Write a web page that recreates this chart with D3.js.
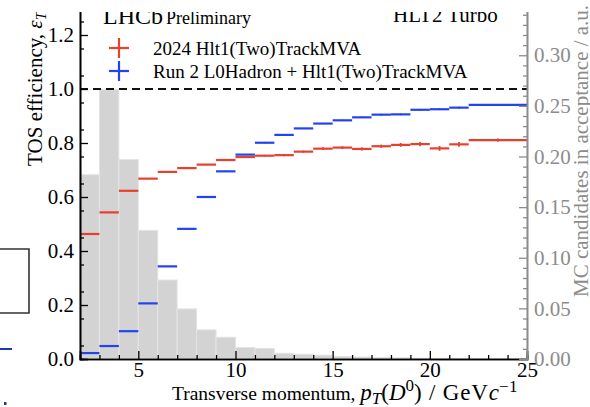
<!DOCTYPE html>
<html><head><meta charset="utf-8">
<script src="https://cdn.jsdelivr.net/npm/d3@7"></script>
<style>
html,body{margin:0;padding:0;background:#fff;}
svg{display:block;}
svg text{font-family:"Liberation Serif","Times New Roman",serif;}
</style></head>
<body><svg id="c" width="590" height="407"></svg>
<script>
// ---- data ----
const effEdges = [2,3,4,5,6,7,8,9,10,11,12,13,14,15,16,17,18,19,20,21,22,25];
const eff2024 = [0.463,0.543,0.623,0.668,0.693,0.707,0.720,0.737,0.748,0.753,0.755,0.768,0.779,0.783,0.778,0.788,0.793,0.796,0.780,0.795,0.811];
const err2024 = [0.002,0.002,0.002,0.002,0.002,0.002,0.002,0.003,0.003,0.003,0.004,0.004,0.005,0.005,0.006,0.006,0.007,0.008,0.009,0.009,0.006];
const effRun2 = [0.022,0.048,0.103,0.206,0.343,0.482,0.600,0.695,0.757,0.801,0.830,0.854,0.872,0.884,0.895,0.905,0.906,0.923,0.925,0.931,0.941];
const errRun2 = [0.001,0.001,0.001,0.001,0.002,0.002,0.002,0.002,0.002,0.002,0.002,0.002,0.002,0.002,0.002,0.003,0.003,0.003,0.003,0.003,0.003];
const histEdges = d3.range(2,26,1);
const histVals = [0.182,0.266,0.197,0.127,0.078,0.0495,0.0288,0.0215,0.0114,0.0104,0.0057,0.0047,0.0038,0.0025,0.0020,0.0015,0.0011,0.0008,0.0006,0.0005,0.0003,0.0003,0.0002];
const legendLabels = ["2024 Hlt1(Two)TrackMVA","Run 2 L0Hadron + Hlt1(Two)TrackMVA"];
const xTicks = [5,10,15,20,25];
const yLTicks = [0,0.2,0.4,0.6,0.8,1.0,1.2];
const yRTicks = [0,0.05,0.10,0.15,0.20,0.25,0.30];

const RED = "#e8402e", BLUE = "#2443f0", GREY = "#8c8c8c";
const FONT = "Liberation Serif, Times New Roman, serif";
const svg = d3.select("#c");
const L = 80, R = 527, B = 359, T = -5.5;
const x = d3.scaleLinear([2,25],[L,R]);
const yL = d3.scaleLinear([0,1.35],[B,T]);
const yR = d3.scaleLinear([0,0.36],[B,T]);

// histogram
svg.append("g").selectAll("rect").data(histVals).join("rect")
  .attr("x",(d,i)=>x(histEdges[i]))
  .attr("width",(d,i)=>x(histEdges[i+1])-x(histEdges[i]))
  .attr("y",d=>yR(d)).attr("height",d=>yR(0)-yR(d))
  .attr("fill","#d3d3d3").attr("stroke","#e4e4e4").attr("stroke-width",1);

// dashed line at 1
svg.append("line").attr("x1",L).attr("x2",R).attr("y1",yL(1)).attr("y2",yL(1))
  .attr("stroke","#111").attr("stroke-width",2).attr("stroke-dasharray","8,5");

function series(vals, errs, color){
  const g = svg.append("g").attr("stroke",color).attr("stroke-width",2.2);
  vals.forEach((v,i)=>{
    const x0 = x(effEdges[i]), x1 = x(effEdges[i+1]), xc = (x0+x1)/2;
    g.append("line").attr("x1",x0).attr("x2",x1).attr("y1",yL(v)).attr("y2",yL(v));
    g.append("line").attr("x1",xc).attr("x2",xc).attr("y1",yL(v-errs[i])).attr("y2",yL(v+errs[i])).attr("stroke-width",1.8);
  });
}
series(eff2024, err2024, RED);
series(effRun2, errRun2, BLUE);

// axes
function style(g, color){
  g.attr("font-family",FONT);
  g.selectAll("text").attr("font-size","21px").attr("fill",color).attr("font-family",FONT);
  g.selectAll("line").attr("stroke",color).attr("stroke-width",1.3);
  g.select(".domain").attr("stroke",color).attr("stroke-width",1.6);
}
const gx = svg.append("g").attr("transform",`translate(0,${B})`)
  .call(d3.axisBottom(x).tickValues(xTicks).tickSize(-8).tickPadding(3).tickFormat(d3.format("d")));
style(gx,"#000");
const gxm = svg.append("g").attr("transform",`translate(0,${B})`)
  .call(d3.axisBottom(x).tickValues(d3.range(3,25,1).filter(v=>v%5)).tickSize(-4).tickFormat(""));
style(gxm,"#000");

const gl = svg.append("g").attr("transform",`translate(${L},0)`)
  .call(d3.axisLeft(yL).tickValues(yLTicks).tickSize(-8).tickPadding(6).tickFormat(d3.format(".1f")));
style(gl,"#000");
const glm = svg.append("g").attr("transform",`translate(${L},0)`)
  .call(d3.axisLeft(yL).tickValues(d3.range(0.05,1.35,0.1)).tickSize(-4).tickFormat(""));
style(glm,"#000");

const gr = svg.append("g").attr("transform",`translate(${R},0)`)
  .call(d3.axisRight(yR).tickValues(yRTicks).tickSize(-8).tickPadding(7).tickFormat(d3.format(".2f")));
style(gr,GREY);
const grm = svg.append("g").attr("transform",`translate(${R},0)`)
  .call(d3.axisRight(yR).tickValues(d3.range(0.01,0.36,0.01).filter((v,i)=>(i+1)%5!==0)).tickSize(-4).tickFormat(""));
style(grm,GREY);

// axis titles
const xt = svg.append("text").attr("x",172).attr("y",400).attr("font-size","19.5px").attr("fill","#000").attr("font-family",FONT);
xt.append("tspan").text("Transverse momentum, ");
xt.append("tspan").attr("font-style","italic").attr("font-size","23px").text("p");
xt.append("tspan").attr("font-style","italic").attr("font-size","17px").attr("dy",4).text("T");
xt.append("tspan").attr("dy",-4).attr("font-size","23px").text("(");
xt.append("tspan").attr("font-style","italic").attr("font-size","23px").text("D");
xt.append("tspan").attr("font-size","17px").attr("dy",-9).text("0");
xt.append("tspan").attr("dy",9).attr("font-size","23px").attr("letter-spacing","0.8px").text(") / GeV");
xt.append("tspan").attr("font-style","italic").attr("font-size","23px").text("c");
xt.append("tspan").attr("font-size","17px").attr("dy",-8).attr("letter-spacing","0.5px").text("−1");

const yt = svg.append("text").attr("transform","translate(42,12) rotate(-90)").attr("text-anchor","end")
  .attr("font-size","21px").attr("fill","#000").attr("font-family",FONT);
yt.append("tspan").text("TOS efficiency, ");
yt.append("tspan").attr("font-style","italic").text("ε");
yt.append("tspan").attr("font-style","italic").attr("font-size","15px").attr("dy",4).text("T");

svg.append("text").attr("transform","translate(588,297) rotate(-90)").attr("font-size","21px").attr("fill",GREY)
  .attr("font-family",FONT).text("MC candidates in acceptance / a.u.");

// legend
legendLabels.forEach((t,i)=>{
  const cy = 48 + i*23, c = i===0?RED:BLUE;
  svg.append("line").attr("x1",109).attr("x2",129).attr("y1",cy).attr("y2",cy).attr("stroke",c).attr("stroke-width",2.2);
  svg.append("line").attr("x1",119).attr("x2",119).attr("y1",cy-10).attr("y2",cy+10).attr("stroke",c).attr("stroke-width",2.2);
  svg.append("text").attr("x",153).attr("y",cy+7).attr("font-size","19px").attr("fill","#000").attr("font-family",FONT).text(t);
});

// labels
const lh = svg.append("text").attr("x",103).attr("y",24).attr("fill","#000").attr("font-family",FONT);
lh.append("tspan").attr("font-size","24px").text("LHCb");
lh.append("tspan").attr("font-size","18px").attr("dx",3).text("Preliminary");
svg.append("text").attr("x",393).attr("y",22).attr("font-size","21px").attr("fill","#000").attr("font-family",FONT).text("HLT2 Turbo");

// top crop (white band over plot region)
svg.append("rect").attr("x",0).attr("y",0).attr("width",565).attr("height",12).attr("fill","#fff");

// left-edge fragments
svg.append("path").attr("d","M-2,249H29V313H-2").attr("fill","none").attr("stroke","#333").attr("stroke-width",1.6);
svg.append("line").attr("x1",0).attr("x2",12).attr("y1",349).attr("y2",349).attr("stroke","#1d3caa").attr("stroke-width",2);
svg.append("rect").attr("x",4).attr("y",402).attr("width",2.5).attr("height",3).attr("fill","#1d3caa");
</script></body></html>
